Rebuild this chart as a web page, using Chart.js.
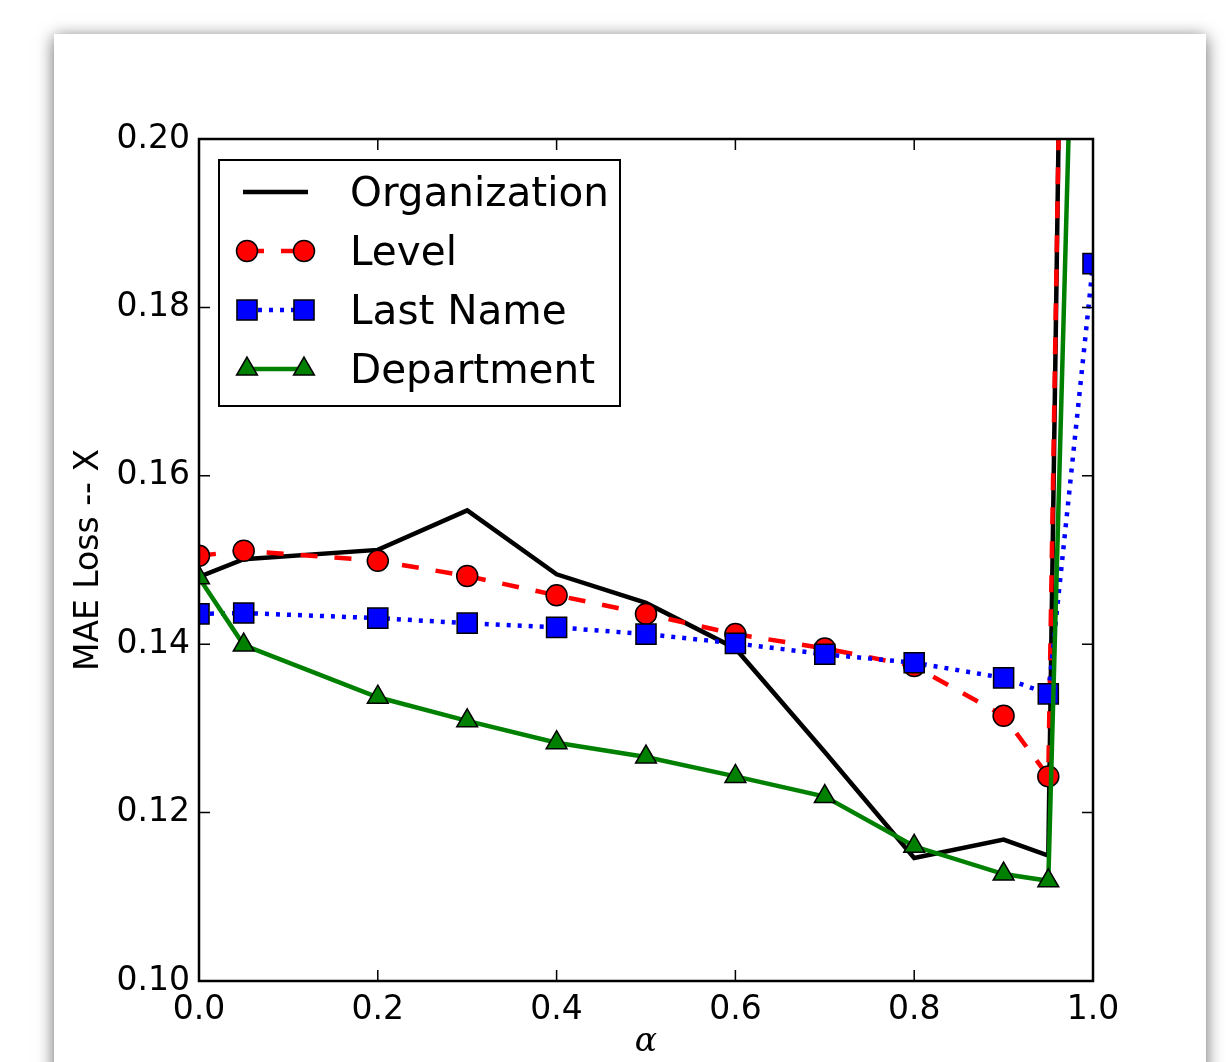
<!DOCTYPE html>
<html lang="en">
<head>
<meta charset="UTF-8">
<title>MAE Loss vs alpha</title>
<script src="https://cdn.jsdelivr.net/npm/chart.js"></script>
<style>
    html, body {
        margin: 0;
        padding: 0;
        background: #fff;
        overflow: hidden;
    }
    .card {
        position: absolute;
        left: 54px;
        top: 34px;
        width: 1152px;
        height: 1100px;
        background: #fff;
        box-shadow: 0 3px 16px rgba(0, 0, 0, 0.6);
    }
    #grafico {
        position: absolute;
        left: 0;
        top: 0;
    }
</style>
</head>
<body>

<div class="card"></div>
<canvas id="grafico" width="1226" height="1062"></canvas>

<script>
// valori
const alpha = [0, 0.05, 0.2, 0.3, 0.4, 0.5, 0.6, 0.7, 0.8, 0.9, 0.95, 1.0];
const organization = [0.1480, 0.1501, 0.1512, 0.1559, 0.1483, 0.1449, 0.1395, 0.1272, 0.1146, 0.1168, 0.1149, 0.487];
const level        = [0.1505, 0.1511, 0.1499, 0.1481, 0.1458, 0.1436, 0.1412, 0.1395, 0.1374, 0.1315, 0.1243, 0.455];
const lastName     = [0.1436, 0.1437, 0.1431, 0.1425, 0.1420, 0.1412, 0.1401, 0.1388, 0.1378, 0.1360, 0.1341, 0.1852];
const department   = [0.1479, 0.1399, 0.1337, 0.1309, 0.1283, 0.1266, 0.1243, 0.1219, 0.1160, 0.1127, 0.1119, 0.307];

const seriesNames = ['Organization', 'Level', 'Last Name', 'Department'];
const yTicks = [0.10, 0.12, 0.14, 0.16, 0.18, 0.20];
const xTicks = [0.0, 0.2, 0.4, 0.6, 0.8, 1.0];

const FONT = "'DejaVu Sans', sans-serif";

function punti(vals) {
    return alpha.map((a, i) => ({ x: a, y: vals[i] }));
}

// disegna un marker come nel grafico originale
function marker(ctx, stile, x, y, r, fill) {
    ctx.beginPath();
    if (stile === 'circle') {
        ctx.arc(x, y, r, 0, Math.PI * 2);
    } else if (stile === 'rect') {
        const s = r * Math.SQRT1_2;
        ctx.rect(x - s, y - s, 2 * s, 2 * s);
    } else if (stile === 'triangle') {
        const w = r * Math.sin(Math.PI / 3);
        ctx.moveTo(x, y - r);
        ctx.lineTo(x + w, y + r / 2);
        ctx.lineTo(x - w, y + r / 2);
        ctx.closePath();
    }
    ctx.fillStyle = fill;
    ctx.fill();
    ctx.lineWidth = 1.5;
    ctx.strokeStyle = '#000';
    ctx.stroke();
}

// cornice e tacche verso l'interno su tutti i lati
const cornice = {
    id: 'cornice',
    afterDatasetsDraw(chart) {
        const { ctx, chartArea: a, scales: { x, y } } = chart;
        ctx.save();
        ctx.strokeStyle = '#000';
        ctx.lineWidth = 1.5;
        ctx.beginPath();
        xTicks.forEach(v => {
            const px = x.getPixelForValue(v);
            ctx.moveTo(px, a.bottom); ctx.lineTo(px, a.bottom - 11);
            ctx.moveTo(px, a.top); ctx.lineTo(px, a.top + 11);
        });
        yTicks.forEach(v => {
            const py = y.getPixelForValue(v);
            ctx.moveTo(a.left, py); ctx.lineTo(a.left + 11, py);
            ctx.moveTo(a.right, py); ctx.lineTo(a.right - 11, py);
        });
        ctx.stroke();
        ctx.lineWidth = 2.5;
        ctx.strokeRect(a.left, a.top, a.right - a.left, a.bottom - a.top);
        ctx.restore();
    }
};

// legenda in stile matplotlib
const legenda = {
    id: 'legenda',
    afterDraw(chart) {
        const { ctx, chartArea: a } = chart;
        const bx = a.left + 20, by = a.top + 21, bw = 401, bh = 246;
        ctx.save();
        ctx.fillStyle = '#fff';
        ctx.fillRect(bx, by, bw, bh);
        ctx.lineWidth = 2;
        ctx.strokeStyle = '#000';
        ctx.strokeRect(bx, by, bw, bh);

        const ds = chart.data.datasets;
        seriesNames.forEach((nome, i) => {
            const d = ds.find(s => s.label === nome);
            const ry = by + 32 + i * 59;
            const x1 = bx + 28, x2 = bx + 85;
            ctx.save();
            ctx.strokeStyle = d.borderColor;
            ctx.lineWidth = d.borderWidth;
            ctx.setLineDash(d.borderDash || []);
            ctx.beginPath();
            if (d.pointRadius > 0) {
                ctx.moveTo(x1, ry); ctx.lineTo(x2, ry);
            } else {
                ctx.moveTo(x1 - 4, ry); ctx.lineTo(x2 + 4, ry);
            }
            ctx.stroke();
            ctx.restore();
            if (d.pointRadius > 0) {
                marker(ctx, d.pointStyle, x1, ry, d.pointRadius, d.pointBackgroundColor);
                marker(ctx, d.pointStyle, x2, ry, d.pointRadius, d.pointBackgroundColor);
            }
            ctx.fillStyle = '#000';
            ctx.font = '40.5px ' + FONT;
            ctx.textBaseline = 'middle';
            ctx.textAlign = 'left';
            ctx.fillText(nome, bx + 131, ry + 3);
        });
        ctx.restore();
    }
};

let ctx = document.getElementById('grafico').getContext('2d');
let chart = new Chart(ctx, {
    type: 'line',
    data: {
        datasets: [
            {
                label: seriesNames[0],
                data: punti(organization),
                borderColor: '#000000',
                borderWidth: 4.5,
                pointRadius: 0,
                order: 4
            },
            {
                label: seriesNames[1],
                data: punti(level),
                borderColor: '#ff0000',
                borderWidth: 4.5,
                borderDash: [17, 17],
                pointStyle: 'circle',
                pointRadius: 10.5,
                pointBackgroundColor: '#ff0000',
                pointBorderColor: '#000',
                pointBorderWidth: 1.5,
                order: 3
            },
            {
                label: seriesNames[2],
                data: punti(lastName),
                borderColor: '#0000ff',
                borderWidth: 4.5,
                borderDash: [4, 7],
                pointStyle: 'rect',
                pointRadius: 14.2,
                pointBackgroundColor: '#0000ff',
                pointBorderColor: '#000',
                pointBorderWidth: 1.5,
                order: 2
            },
            {
                label: seriesNames[3],
                data: punti(department),
                borderColor: '#008000',
                borderWidth: 4.5,
                pointStyle: 'triangle',
                pointRadius: 12,
                pointBackgroundColor: '#008000',
                pointBorderColor: '#000',
                pointBorderWidth: 1.5,
                order: 1
            }
        ]
    },
    options: {
        responsive: false,
        animation: false,
        devicePixelRatio: 1,
        layout: { padding: { left: 62, top: 139, right: 133, bottom: 0 } },
        plugins: {
            legend: { display: false },
            tooltip: { enabled: false }
        },
        elements: { line: { tension: 0, fill: false } },
        scales: {
            x: {
                type: 'linear',
                min: 0,
                max: 1,
                afterFit: s => { s.height = 81; },
                afterBuildTicks: s => { s.ticks = xTicks.map(v => ({ value: v })); },
                grid: { display: false, drawTicks: false },
                border: { display: false },
                ticks: {
                    color: '#000',
                    padding: 10,
                    maxRotation: 0,
                    font: { family: FONT, size: 33 },
                    callback: v => v.toFixed(1)
                },
                title: {
                    display: true,
                    text: 'α',
                    color: '#000',
                    padding: { top: 0, bottom: 0 },
                    font: { family: "'DejaVu Serif', serif", size: 33, style: 'italic' }
                }
            },
            y: {
                type: 'linear',
                min: 0.10,
                max: 0.20,
                afterFit: s => { s.width = 137; },
                afterBuildTicks: s => { s.ticks = yTicks.map(v => ({ value: v })); },
                grid: { display: false, drawTicks: false },
                border: { display: false },
                ticks: {
                    color: '#000',
                    padding: 9,
                    font: { family: FONT, size: 33 },
                    callback: v => v.toFixed(2)
                },
                title: {
                    display: true,
                    text: 'MAE Loss -- X',
                    color: '#000',
                    padding: { top: 8, bottom: 0 },
                    font: { family: FONT, size: 33 }
                }
            }
        }
    },
    plugins: [cornice, legenda]
});
</script>

</body>
</html>
